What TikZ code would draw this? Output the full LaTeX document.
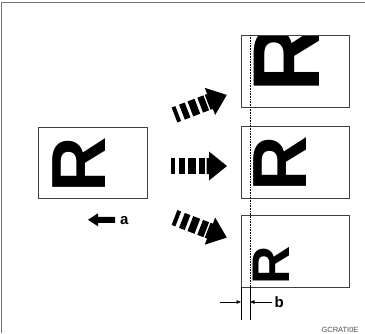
\documentclass[tikz,border=0pt]{standalone}
\usepackage{fontspec}
\setmainfont{Liberation Sans}
\usetikzlibrary{arrows.meta}
\tikzset{
  paper/.style={draw=black!75, line width=0.8pt, fill=none},
  bigR/.style={rotate=90, anchor=base west, inner sep=0pt, outer sep=0pt,
    font=\fontsize{#1}{#1}\selectfont\bfseries},
  lbl/.style={anchor=base west, inner sep=0pt, font=\fontsize{15}{15}\selectfont\bfseries},
  dimline/.style={line width=0.6pt, -{Triangle[length=4.5pt,width=3.5pt]}},
  guide/.style={line width=0.6pt},
  striped/.pic={
    \fill (0,-8) rectangle (4,8);
    \fill (8,-8) rectangle (14,8);
    \fill (17,-8) rectangle (24.5,8);
    \fill (27.5,-8) rectangle (34,8);
    \fill (35.5,-8) -- (38,-8) -- (38,-14.5) -- (56,0) -- (38,14.5) -- (38,8) -- (35.5,8) -- cycle;
  }
}
\begin{document}
\begin{tikzpicture}[x=1pt,y=-1pt]
\useasboundingbox (0,0) rectangle (365,333);
% outer frame (top and left edges)
\draw[black!55, line width=0.8pt] (1.5,333) -- (1.5,2) -- (365,2);

% original sheet
\node[bigR=76.8] (Rl) at (106,192.6) {R};
\draw[paper] (38.5,127) rectangle (147,198.3);

% enlarged copy (top)
\begin{scope}
  \clip (241,35) rectangle (349,107.3);
  \node[bigR=95] (Rt) at (319,92.9) {R};
\end{scope}
\draw[paper] (241,35) rectangle (349,107.3);

% same size (middle)
\node[bigR=76.8] (Rm) at (306,191.6) {R};
\draw[paper] (241,126) rectangle (349,198.3);

% reduced (bottom)
\node[bigR=53] (Rb) at (289,284.9) {R};
\draw[paper] (241,215) rectangle (349,287.3);

% striped arrows
\pic (aT) [rotate=21] at (174.5,115) {striped};
\pic (aM) at (171,166) {striped};
\pic (aB) [rotate=-21] at (174.5,217.5) {striped};

% direction arrow a
\fill (88,219.8) -- (98,213.3) -- (98,216.8) -- (115,216.8) -- (115,222.8) -- (98,222.8) -- (98,226.3) -- cycle;
\node[lbl] (la) at (120,224.8) {a};

% margin guides
\coordinate (g1t) at (241,287.3);
\coordinate (g1b) at (241,320);
\coordinate (g2t) at (250,35);
\coordinate (g2m) at (250,287.3);
\coordinate (g2b) at (250,320);
\draw[guide, densely dotted] (g2t) -- (g2m);
\draw[guide] (g2m) -- (g2b);
\draw[guide] (g1t) -- (g1b);

% dimension b
\coordinate (d1s) at (220,302);
\coordinate (d1e) at (241,302);
\coordinate (d2s) at (272,302);
\coordinate (d2e) at (250,302);
\draw[dimline] (d1s) -- (d1e);
\draw[dimline] (d2s) -- (d2e);
\node[lbl] (lb) at (274.5,307.8) {b};

% figure code
\node[anchor=base, inner sep=0pt, text=black!70, font=\fontsize{7.5}{7.5}\selectfont] (code) at (340,332) {GCRATI0E};
\end{tikzpicture}
\end{document}
